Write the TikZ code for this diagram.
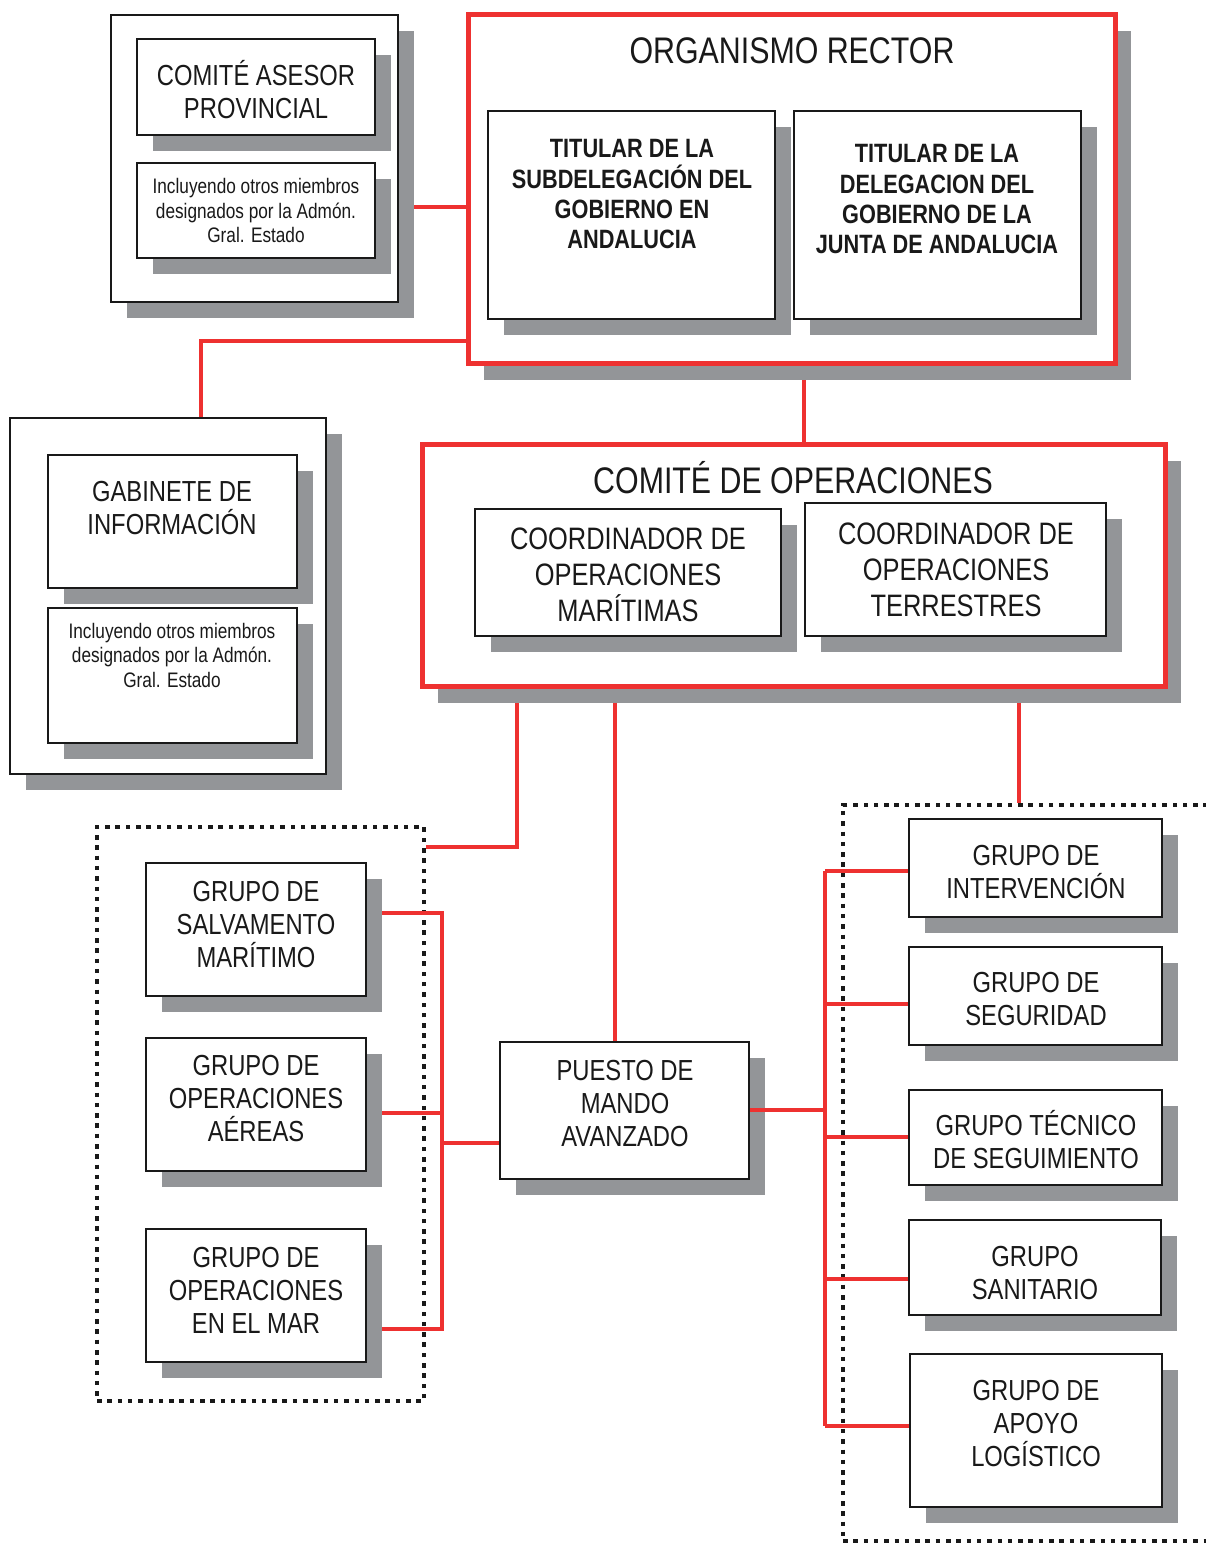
\documentclass[tikz,border=0pt]{standalone}
\usepackage{fontspec}
\setmainfont{Liberation Sans}[FakeStretch=0.82]
\usetikzlibrary{shadows}
\definecolor{redc}{HTML}{EE3130}
\definecolor{shg}{HTML}{939598}
\pgfdeclarelayer{bg}
\pgfsetlayers{bg,main}
\newcommand{\mystrut}{\rule{0pt}{40pt}}
\begin{document}
\begin{tikzpicture}[x=1pt,y=-1pt,
  shbox/.style={rectangle, draw=black!90, line width=1.8pt, fill=white, inner sep=0pt,
    drop shadow={shadow xshift=16pt, shadow yshift=-16pt, fill=shg, opacity=1}},
  redbox/.style={rectangle, draw=redc, line width=5pt, fill=white, inner sep=0pt,
    drop shadow={shadow xshift=16pt, shadow yshift=-17pt, fill=shg, opacity=1}},
  dotbox/.style={rectangle, draw=black!90, line width=4.5pt, dash pattern=on 4.5pt off 5.8pt, inner sep=0pt},
  conn/.style={draw=redc, line width=4.5pt},
  txt/.style={align=center, inner sep=0pt, anchor=north, text=black!90},
  tbig/.style={txt, font=\fontsize{37}{42}\selectfont},
  tmid/.style={txt, font=\fontsize{29}{33}\selectfont},
  tcoo/.style={txt, font=\fontsize{31}{36}\selectfont},
  tbold/.style={txt, font=\fontsize{26.5}{30.3}\selectfont\bfseries},
  tsmall/.style={txt, font=\fontsize{21}{24.5}\selectfont}]
\useasboundingbox (0,0) rectangle (1205,1545);
\begin{pgfonlayer}{bg}
  \fill[white] (0,0) rectangle (1205,1545);
\end{pgfonlayer}

% Comite asesor
\node[shbox, minimum width=287pt, minimum height=287pt] (asesorOuter) at (254.5,158.5) {};
\node[shbox, minimum width=238pt, minimum height=96pt] (asesor) at (256,87) {};
\node[shbox, minimum width=238pt, minimum height=95pt] (asesorNote) at (256,210.5) {};
\node[tmid] (asesorT) at (256,45.5) {\mystrut COMITÉ ASESOR\\PROVINCIAL};
\node[tsmall] (asesorN) at (256,153.5) {\mystrut Incluyendo otros miembros\\designados por la Admón.\\Gral. Estado};

% Organismo rector
\node[redbox, minimum width=647pt, minimum height=349pt] (rector) at (791.5,188.5) {};
\node[tbig] (rectorT) at (792,23) {\mystrut ORGANISMO RECTOR};
\node[shbox, minimum width=287pt, minimum height=208pt] (tit1) at (631.5,215) {};
\node[shbox, minimum width=287pt, minimum height=208pt] (tit2) at (937.5,215) {};
\node[tbold] (tit1T) at (632,117.5) {\mystrut TITULAR DE LA\\SUBDELEGACIÓN DEL\\GOBIERNO EN\\ANDALUCIA};
\node[tbold] (tit2T) at (937,122.5) {\mystrut TITULAR DE LA\\DELEGACION DEL\\GOBIERNO DE LA\\JUNTA DE ANDALUCIA};

% Gabinete
\node[shbox, minimum width=316pt, minimum height=356pt] (gabOuter) at (168,596) {};
\node[shbox, minimum width=249pt, minimum height=133pt] (gab) at (172.5,521.5) {};
\node[shbox, minimum width=249pt, minimum height=135pt] (gabNote) at (172.5,675.5) {};
\node[tmid] (gabT) at (172,461.5) {\mystrut GABINETE DE\\INFORMACIÓN};
\node[tsmall] (gabN) at (172,598) {\mystrut Incluyendo otros miembros\\designados por la Admón.\\Gral. Estado};

% Comite de operaciones
\node[redbox, minimum width=743pt, minimum height=242pt] (comite) at (793.5,565) {};
\node[tbig] (comiteT) at (793,453) {\mystrut COMITÉ DE OPERACIONES};
\node[shbox, minimum width=306pt, minimum height=127pt] (cmar) at (628,572.5) {};
\node[shbox, minimum width=301pt, minimum height=133pt] (cter) at (955.5,569.5) {};
\node[tcoo] (cmarT) at (628,509) {\mystrut COORDINADOR DE\\OPERACIONES\\MARÍTIMAS};
\node[tcoo] (cterT) at (956,504) {\mystrut COORDINADOR DE\\OPERACIONES\\TERRESTRES};

% Left groups
\node[shbox, minimum width=220pt, minimum height=133pt] (sal) at (256,929.5) {};
\node[shbox, minimum width=220pt, minimum height=133pt] (aer) at (256,1104.5) {};
\node[shbox, minimum width=220pt, minimum height=133pt] (mar) at (256,1295.5) {};
\node[tmid] (salT) at (256,861.5) {\mystrut GRUPO DE\\SALVAMENTO\\MARÍTIMO};
\node[tmid] (aerT) at (256,1035.5) {\mystrut GRUPO DE\\OPERACIONES\\AÉREAS};
\node[tmid] (marT) at (256,1227.5) {\mystrut GRUPO DE\\OPERACIONES\\EN EL MAR};

% PMA
\node[shbox, minimum width=249pt, minimum height=137pt] (pma) at (624.5,1110.5) {};
\node[tmid] (pmaT) at (625,1040.5) {\mystrut PUESTO DE\\MANDO\\AVANZADO};

% Right groups
\node[shbox, minimum width=253pt, minimum height=98pt] (inter) at (1035.5,868) {};
\node[shbox, minimum width=253pt, minimum height=98pt] (seg) at (1035.5,996) {};
\node[shbox, minimum width=253pt, minimum height=95pt] (tec) at (1035.5,1137.5) {};
\node[shbox, minimum width=252pt, minimum height=95pt] (san) at (1035,1267.5) {};
\node[shbox, minimum width=252pt, minimum height=153pt] (apo) at (1036,1430.5) {};
\node[tmid] (interT) at (1036,825.5) {\mystrut GRUPO DE\\INTERVENCIÓN};
\node[tmid] (segT) at (1036,952.5) {\mystrut GRUPO DE\\SEGURIDAD};
\node[tmid] (tecT) at (1036,1095.5) {\mystrut GRUPO TÉCNICO\\DE SEGUIMIENTO};
\node[tmid] (sanT) at (1035,1226.5) {\mystrut GRUPO\\SANITARIO};
\node[tmid] (apoT) at (1036,1360.5) {\mystrut GRUPO DE\\APOYO\\LOGÍSTICO};

% junction coordinates
\coordinate (j1) at (0,207);
\coordinate (k1) at (201,341);
\coordinate (m1) at (804,0);
\coordinate (c1) at (517,847);
\coordinate (p1) at (615,0);
\coordinate (q1) at (1019,0);
\coordinate (lb1) at (442,913);
\coordinate (lb2) at (442,1329);
\coordinate (lb3) at (442,1113);
\coordinate (lb4) at (442,1143);
\coordinate (rb0) at (825,1110);
\coordinate (rb1) at (825,871);
\coordinate (rb2) at (825,1004);
\coordinate (rb3) at (825,1137);
\coordinate (rb4) at (825,1279);
\coordinate (rb5) at (825,1426);

\begin{pgfonlayer}{bg}
  \node[dotbox, minimum width=327pt, minimum height=574pt] (lgrp) at (260.5,1114) {};
  \node[dotbox, minimum width=417pt, minimum height=736pt] (rgrp) at (1051.5,1173) {};
  \draw[conn] (asesorOuter.east |- j1) -- (rector.west |- j1);
  \draw[conn] (rector.west |- k1) -- (k1) -- (k1 |- gabOuter.north);
  \draw[conn] (rector.south -| m1) -- (comite.north -| m1);
  \draw[conn] (comite.south -| c1) -- (c1) -- (lgrp.east |- c1);
  \draw[conn] (comite.south -| p1) -- (pma.north -| p1);
  \draw[conn] (comite.south -| q1) -- (rgrp.north -| q1);
  \draw[conn] (sal.east |- lb1) -- (lb1) -- (lb2) -- (mar.east |- lb2);
  \draw[conn] (aer.east |- lb3) -- (lb3);
  \draw[conn] (lb4) -- (pma.west |- lb4);
  \draw[conn] (rb1) -- (rb5);
  \draw[conn] (rb1) -- (inter.west |- rb1);
  \draw[conn] (rb2) -- (seg.west |- rb2);
  \draw[conn] (rb3) -- (tec.west |- rb3);
  \draw[conn] (rb4) -- (san.west |- rb4);
  \draw[conn] (rb5) -- (apo.west |- rb5);
\end{pgfonlayer}
\draw[conn] (pma.east |- rb0) -- (rb0);
\end{tikzpicture}
\end{document}
